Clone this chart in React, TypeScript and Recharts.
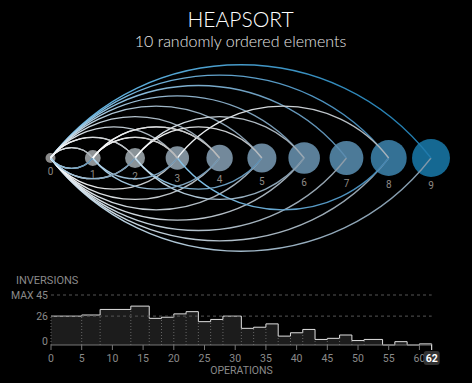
import { ComposedChart, Scatter, Line, XAxis, YAxis, ZAxis, Area, ReferenceLine } from "recharts";

// positions 0..9 (after sorting, position i holds value i)
const NODE_IDS = [0, 1, 2, 3, 4, 5, 6, 7, 8, 9];

// swaps read off the arcs: [from, to, value carried]
// above the axis: element moving right, below: element moving left
const UPPER_ARCS: [number, number, number][] = [
  [0, 9, 9], [0, 8, 8], [0, 7, 7], [0, 6, 6], [0, 5, 5], [0, 4, 4], [0, 3, 3], [0, 2, 2], [0, 1, 1],
  [3, 8, 2], [1, 4, 3], [2, 6, 3], [1, 3, 1], [2, 5, 1], [0, 2, 1], [0, 1, 2], [1, 3, 0], [1, 4, 0],
];
const LOWER_ARCS: [number, number, number][] = [
  [0, 9, 5], [0, 8, 4], [0, 7, 4], [0, 6, 3], [0, 5, 3], [0, 4, 2], [0, 3, 1], [0, 2, 0], [0, 1, 0],
  [3, 8, 8], [2, 5, 7], [2, 6, 5], [1, 3, 6], [1, 4, 6], [0, 1, 7], [0, 2, 6],
];

// inversions over time (step changes)
const OPS = [0, 5, 8, 13, 16, 18, 20, 22, 24, 26, 28, 31, 33, 35, 37, 39, 41, 43, 45, 47, 49, 51, 54, 56, 58, 60, 62];
const INVERSIONS = [26, 27, 32, 35, 24, 25, 28, 30, 21, 23, 26, 15, 16, 19, 8, 11, 14, 5, 6, 9, 4, 5, 0, 3, 0, 1, 0];
const OP_TICKS = [0, 5, 10, 15, 20, 25, 30, 35, 40, 45, 50, 55, 60, 62];
const INV_TICKS = [0, 26, 45];

const NODE_COLORS = ["#8a8a8a", "#8e9295", "#8a9398", "#7f8f9b", "#73899b", "#67849a", "#5b7f99", "#4c7a98", "#347195", "#156892"];
const ARC_BASE = ["#b8b8b8", "#b4b9bd", "#a8b0b6", "#9aa6b0", "#8d9ca8", "#7f96a8", "#6f92ad", "#5a8cb0", "#3f84b2", "#1f7aac"];
const ARC_LIGHT = ["#ffffff", "#ffffff", "#f4f7f9", "#e8eff4", "#d8e6ef", "#c6deed", "#b2d5ec", "#9ccdea", "#86c4e9", "#6cbbe8"];
const GREY = "#8a8a8a";
const FONT = "Roboto, 'Liberation Sans', sans-serif";

// d3-style curve: joins consecutive points with a bowed arc above (1) or below (-1)
const arcCurve = (dir: number) => (context: any) => {
  let px = 0;
  let py = 0;
  let started = false;
  return {
    areaStart() {},
    areaEnd() {},
    lineStart() {
      started = false;
    },
    lineEnd() {},
    point(x: number, y: number) {
      x = +x;
      y = +y;
      if (!started) {
        context.moveTo(x, y);
        started = true;
      } else {
        const c = x - px;
        const h = Math.abs(c) * 0.3267 * dir;
        context.bezierCurveTo(px + c * 0.2535, py - h, x - c * 0.2535, y - h, x, y);
      }
      px = x;
      py = y;
    },
  };
};
const UP = arcCurve(1);
const DOWN = arcCurve(-1);

const arcs = [
  ...LOWER_ARCS.map(([from, to, v]) => ({ from, to, v, up: false })),
  ...UPPER_ARCS.map(([from, to, v]) => ({ from, to, v, up: true })),
];

const nodes = NODE_IDS.map((i) => ({ x: i, y: 0, z: i }));
const invData = OPS.map((op, i) => ({ op, inv: INVERSIONS[i] }));

const NodeShape = (props: any) => {
  const { cx, cy, payload } = props;
  const r = props.size ? Math.sqrt(props.size / Math.PI) : props.width / 2;
  return (
    <g>
      <circle cx={cx} cy={cy} r={r} fill={NODE_COLORS[payload.z]} />
      <text x={cx} y={cy + r + 12} textAnchor="middle" fontSize={10} fontFamily={FONT} fill="#8f8a85">
        {payload.x}
      </text>
    </g>
  );
};

const InvTick = ({ x, y, payload }: any) => {
  const v = payload.value;
  return (
    <text x={x} y={v === 0 ? y - 4 : y} dy="0.35em" textAnchor="end" fill={GREY} fontSize={10.5} fontFamily={FONT}>
      {v === 45 ? `MAX ${v}` : v}
    </text>
  );
};

const OpTick = ({ x, y, payload }: any) => {
  const v = payload.value;
  const last = v === OPS[OPS.length - 1];
  return (
    <g>
      <line x1={x} x2={x} y1={y} y2={y + 5} stroke={last ? "#fff" : "#777"} />
      {last && <rect x={x - 8} y={y + 6} width={16} height={14} rx={3} fill="#333" />}
      <text
        x={x}
        y={y + 16.5}
        textAnchor="middle"
        fill={last ? "#fff" : GREY}
        fontWeight={last ? 700 : 400}
        fontSize={10.5}
        fontFamily={FONT}
      >
        {v}
      </text>
    </g>
  );
};

export default function App() {
  return (
    <div style={{ position: "absolute", left: 0, top: 0, width: 472, height: 383, background: "#000", overflow: "hidden" }}>
      <div
        style={{
          position: "absolute", left: 9, top: 7, width: 463, textAlign: "center",
          color: "#fff", fontFamily: "Lato, sans-serif", fontWeight: 300, fontSize: 21, lineHeight: "24px",
        }}
      >
        HEAPSORT
      </div>
      <div
        style={{
          position: "absolute", left: 9, top: 31, width: 463, textAlign: "center",
          color: "#e6e6e6", fontFamily: "Lato, sans-serif", fontWeight: 300, fontSize: 16, lineHeight: "20px",
        }}
      >
        10 randomly ordered elements
      </div>

      <div style={{ position: "absolute", left: 0, top: 0 }}>
        <ComposedChart width={472} height={270} margin={{ top: 46, right: 41, bottom: 0, left: 50.5 }}>
          <defs>
            {arcs.map((a, i) => (
              <linearGradient key={i} id={`arc${i}`} x1="0" y1="0" x2="1" y2="0">
                <stop offset="0%" stopColor={ARC_LIGHT[a.v]} />
                <stop offset="100%" stopColor={ARC_BASE[a.v]} />
              </linearGradient>
            ))}
          </defs>
          <XAxis type="number" dataKey="x" domain={[0, 9]} hide />
          <YAxis type="number" dataKey="y" domain={[-1, 1]} hide />
          <ZAxis type="number" dataKey="z" domain={[0, 9]} range={[78, 1134]} />
          <Scatter data={nodes} shape={NodeShape} zIndex={100} isAnimationActive={false} />
          {arcs.map((a, i) => (
            <Line
              key={i}
              data={[{ x: a.from, y: 0 }, { x: a.to, y: 0 }]}
              dataKey="y"
              type={a.up ? UP : DOWN}
              stroke={`url(#arc${i})`}
              strokeWidth={1.3}
              dot={false}
              activeDot={false}
              zIndex={700}
              isAnimationActive={false}
            />
          ))}
        </ComposedChart>
      </div>

      <div
        style={{
          position: "absolute", left: 16, top: 274, color: GREY, fontFamily: FONT, fontSize: 11, lineHeight: "14px",
        }}
      >
        INVERSIONS
      </div>
      <div
        style={{
          position: "absolute", left: 51, width: 381, top: 364, textAlign: "center",
          color: GREY, fontFamily: FONT, fontSize: 10.5, lineHeight: "14px",
        }}
      >
        OPERATIONS
      </div>

      <div style={{ position: "absolute", left: 0, top: 270 }}>
        <ComposedChart width={472} height={115} data={invData} margin={{ top: 25, right: 40.3, bottom: 10, left: 0 }}>
          <XAxis
            type="number"
            dataKey="op"
            domain={[0, 62]}
            ticks={OP_TICKS}
            interval={0}
            height={30}
            axisLine={{ stroke: "#777" }}
            tickLine={false}
            tickSize={0}
            tickMargin={0}
            tick={OpTick}
          />
          <YAxis
            type="number"
            domain={[0, 45]}
            ticks={INV_TICKS}
            interval={0}
            width={51}
            axisLine={false}
            tickLine={false}
            tickSize={0}
            tickMargin={3}
            tick={InvTick}
          />
          <ReferenceLine y={45} stroke="#555" strokeDasharray="3 3" />
          <ReferenceLine y={26} stroke="#555" strokeDasharray="3 3" />
          <Area
            type="stepAfter"
            dataKey="inv"
            stroke="#e0e0e0"
            strokeWidth={1}
            fill="#1c1c1c"
            fillOpacity={1}
            dot={false}
            activeDot={false}
            isAnimationActive={false}
          />
          {OPS.slice(0, -1).map((op, i) => {
            const h = i === 0 ? INVERSIONS[0] : Math.min(INVERSIONS[i - 1], INVERSIONS[i]);
            return h > 0 ? (
              <ReferenceLine
                key={op}
                segment={[{ x: op, y: 0 }, { x: op, y: h }]}
                stroke="#666"
                strokeDasharray="1 2"
              />
            ) : null;
          })}
        </ComposedChart>
      </div>
    </div>
  );
}
